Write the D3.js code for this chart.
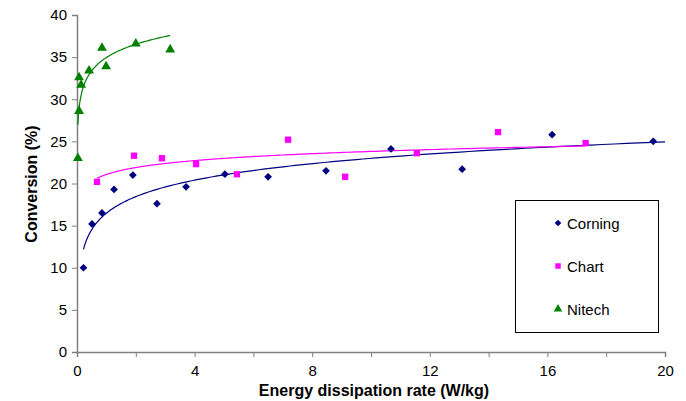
<!DOCTYPE html>
<html>
<head>
<meta charset="utf-8">
<script src="https://cdn.jsdelivr.net/npm/d3@7"></script>
<style>
  body { margin: 0; background: #fff; }
  text { font-family: "Liberation Sans", Arial, sans-serif; }
</style>
</head>
<body>
<svg id="chart" width="686" height="401"></svg>
<script>
// data
var corningX = [0.22, 0.51, 0.85, 1.26, 1.9, 2.72, 3.71, 5.03, 6.5, 8.47, 10.68, 13.1, 16.16, 19.6];
var corningY = [10.0, 15.2, 16.5, 19.3, 21.0, 17.6, 19.6, 21.1, 20.8, 21.5, 24.1, 21.7, 25.8, 25.0];
var chartX = [0.68, 1.94, 2.89, 4.05, 5.44, 7.18, 9.12, 11.56, 14.32, 17.3];
var chartY = [20.2, 23.3, 23.0, 22.3, 21.1, 25.2, 20.8, 23.6, 26.1, 24.8];
var nitechX = [0.03, 0.07, 0.07, 0.14, 0.41, 0.85, 0.99, 2.0, 3.17];
var nitechY = [23.0, 28.6, 32.6, 31.7, 33.4, 36.1, 33.9, 36.6, 35.9];
var seriesNames = ["Corning", "Chart", "Nitech"];
var seriesColors = ["#000080", "#ff00ff", "#008000"];
var xTicks = [0, 2, 4, 6, 8, 10, 12, 14, 16, 18, 20];
var xLabels = [0, 4, 8, 12, 16, 20];
var yTicks = [0, 5, 10, 15, 20, 25, 30, 35, 40];

var svg = d3.select("#chart");
var x = d3.scaleLinear().domain([0, 20]).range([77, 665]);
var y = d3.scaleLinear().domain([0, 40]).range([352, 15]);
var axisColor = "#808080";

// log trend line, least squares like excel does
function logFit(xs, ys) {
  var lx = xs.map(Math.log);
  var mx = d3.mean(lx), my = d3.mean(ys);
  var num = d3.sum(lx, (v, i) => (v - mx) * (ys[i] - my));
  var den = d3.sum(lx, v => (v - mx) * (v - mx));
  var a = num / den;
  return {a: a, b: my - a * mx};
}

var series = [
  {xs: corningX, ys: corningY, end: 20, shape: d3.symbolSquare, size: 30, rot: 45},
  {xs: chartX, ys: chartY, end: d3.max(chartX), shape: d3.symbolSquare, size: 40, rot: 0},
  {xs: nitechX, ys: nitechY, end: d3.max(nitechX), shape: d3.symbolTriangle, size: 42, rot: 0}
];

// axes
var xAxis = d3.axisBottom(x).tickValues(xTicks).tickSize(5)
  .tickFormat(d => xLabels.indexOf(d) >= 0 ? d : "");
var gx = svg.append("g").attr("transform", "translate(0,352)").call(xAxis);
var yAxis = d3.axisLeft(y).tickValues(yTicks).tickSize(5);
var gy = svg.append("g").attr("transform", "translate(77,0)").call(yAxis);
[gx, gy].forEach(function(g) {
  g.select(".domain").attr("stroke", axisColor).attr("stroke-width", 1.5);
  g.selectAll(".tick line").attr("stroke", axisColor);
  g.selectAll(".tick text").attr("fill", "#000").style("font-size", "15px")
    .style("font-family", "Liberation Sans, Arial, sans-serif");
});
gx.selectAll(".tick text").attr("dy", "1.05em");
gy.selectAll(".tick text").attr("dx", "-2");

svg.append("text").attr("x", 374).attr("y", 396).attr("text-anchor", "middle")
  .style("font-size", "16px").style("font-weight", "bold").text("Energy dissipation rate (W/kg)");
svg.append("text").attr("transform", "translate(37,184) rotate(-90)").attr("text-anchor", "middle")
  .style("font-size", "16px").style("font-weight", "bold").text("Conversion (%)");

// trend lines
series.forEach(function(s, k) {
  var f = logFit(s.xs, s.ys);
  var start = d3.min(s.xs);
  var pts = d3.range(0, 201).map(i => start * Math.pow(s.end / start, i / 200));
  var line = d3.line().x(d => x(d)).y(d => y(f.a * Math.log(d) + f.b));
  svg.append("path").datum(pts).attr("d", line).attr("fill", "none")
    .attr("stroke", seriesColors[k]).attr("stroke-width", 1.2);
});

// markers
series.forEach(function(s, k) {
  svg.append("g").selectAll("path").data(s.xs).enter().append("path")
    .attr("d", d3.symbol().type(s.shape).size(s.size))
    .attr("transform", (d, i) => "translate(" + x(d) + "," + y(s.ys[i]) + ") rotate(" + s.rot + ")")
    .attr("fill", seriesColors[k]);
});

// legend
var leg = svg.append("g");
leg.append("rect").attr("x", 515.5).attr("y", 200.5).attr("width", 143).attr("height", 132)
  .attr("fill", "#fff").attr("stroke", "#000").attr("stroke-width", 1);
seriesNames.forEach(function(n, k) {
  var ly = 223 + k * 43;
  leg.append("path").attr("d", d3.symbol().type(series[k].shape).size(series[k].size * 0.75))
    .attr("transform", "translate(558," + ly + ") rotate(" + series[k].rot + ")").attr("fill", seriesColors[k]);
  leg.append("text").attr("x", 567).attr("y", ly + 5.5).style("font-size", "15px").text(n);
});
</script>
</body>
</html>
